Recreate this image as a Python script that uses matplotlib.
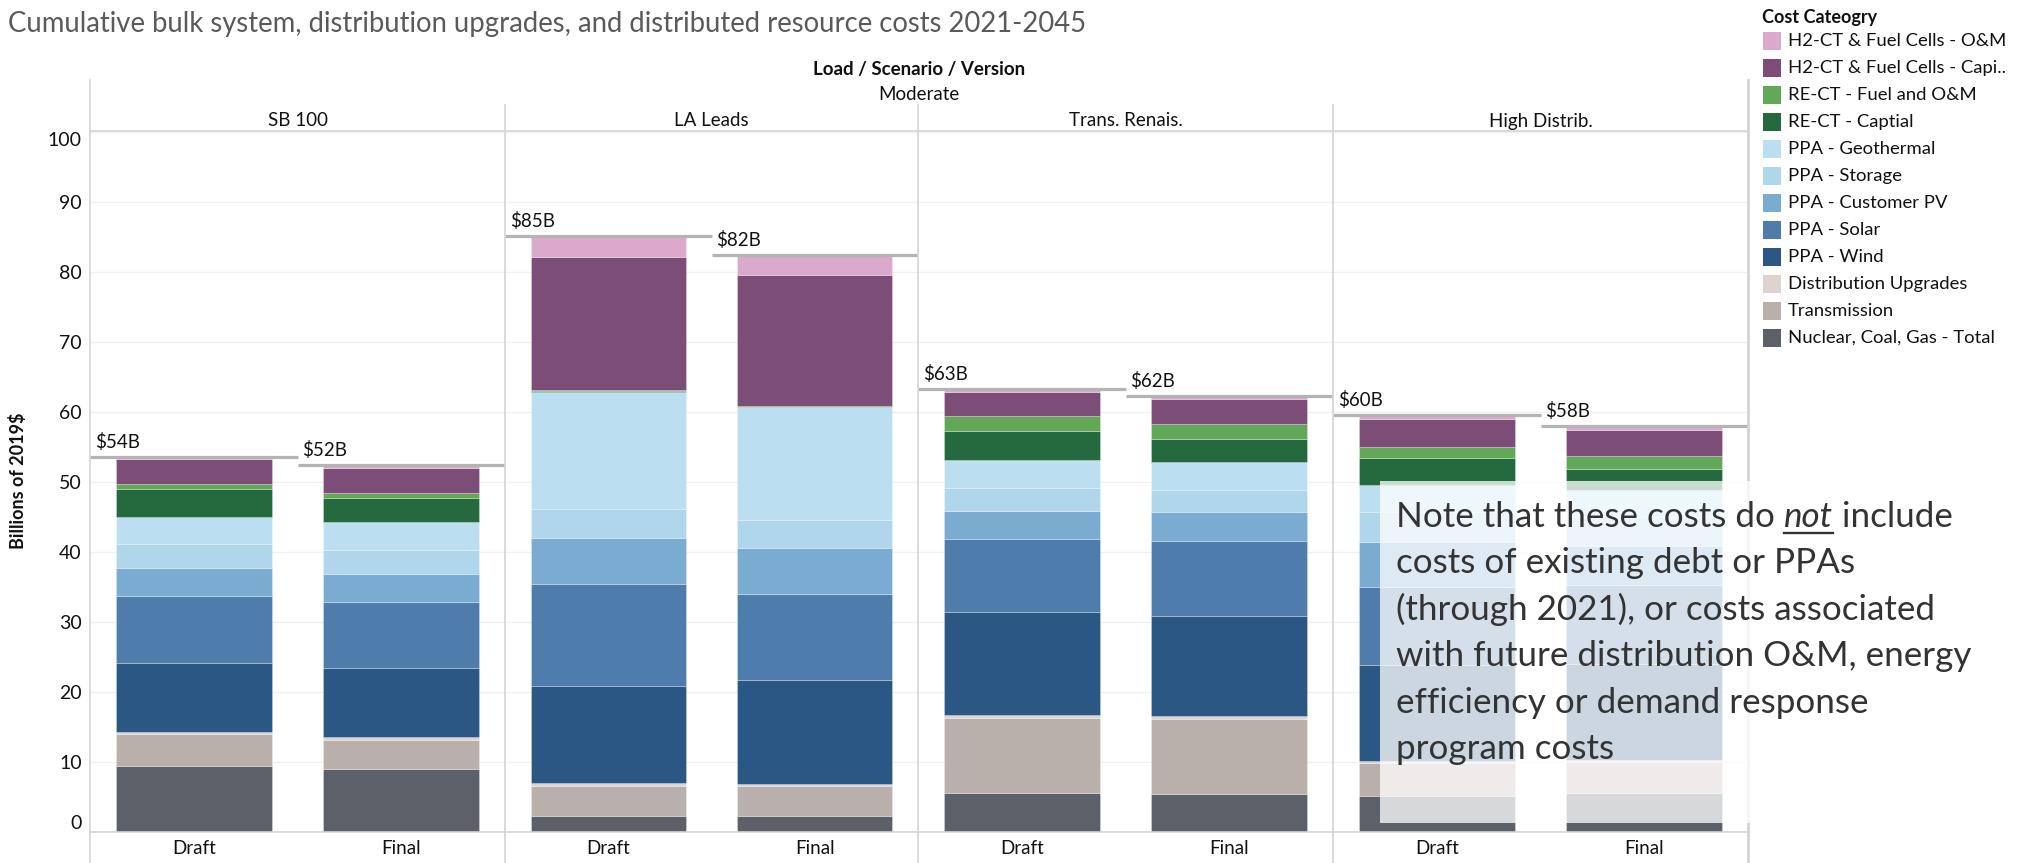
import matplotlib
matplotlib.use('Agg')
import matplotlib.pyplot as plt
from matplotlib.patches import Rectangle
from matplotlib.lines import Line2D
import numpy as np

W, H = 2028, 863

title = 'Cumulative bulk system, distribution upgrades, and distributed resource costs 2021-2045'
scenarios = ['SB 100', 'LA Leads', 'Trans. Renais.', 'High Distrib.']
versions = ['Draft', 'Final']

# stack order, bottom -> top
categories = ['Nuclear, Coal, Gas - Total', 'Transmission', 'Distribution Upgrades',
              'PPA - Wind', 'PPA - Solar', 'PPA - Customer PV', 'PPA - Storage',
              'PPA - Geothermal', 'RE-CT - Captial', 'RE-CT - Fuel and O&M',
              'H2-CT & Fuel Cells - Capi..', 'H2-CT & Fuel Cells - O&M']
colors = ['#5c6069', '#bab0ab', '#ddd3d1', '#2b5784', '#4e7dac', '#7aabd0',
          '#b0d6ec', '#bbdff1', '#246a3e', '#62a856', '#7c4d77', '#dba9cb']

# billions of 2019$ -> [SB100 D, SB100 F, LA D, LA F, TR D, TR F, HD D, HD F]
nuclear = [9.4, 9.0, 2.3, 2.3, 5.6, 5.4, 5.2, 5.5]
transmission = [4.6, 4.2, 4.3, 4.3, 10.7, 10.8, 4.6, 4.5]
distribution = [0.3, 0.3, 0.4, 0.3, 0.4, 0.3, 0.3, 0.3]
wind = [9.8, 9.9, 13.8, 14.8, 14.7, 14.4, 13.8, 13.7]
solar = [9.6, 9.5, 14.6, 12.3, 10.4, 10.6, 11.1, 11.2]
customer_pv = [4.0, 4.0, 6.6, 6.6, 4.1, 4.2, 6.4, 5.7]
storage = [3.4, 3.4, 4.1, 4.0, 3.2, 3.2, 4.3, 4.1]
geothermal = [3.9, 3.9, 16.8, 16.1, 4.0, 3.9, 3.8, 3.8]
rect_capital = [4.0, 3.5, 0.05, 0.05, 4.1, 3.3, 3.9, 3.1]
rect_fuel_om = [0.7, 0.7, 0.1, 0.1, 2.2, 2.2, 1.6, 1.8]
h2_capital = [3.5, 3.6, 19.1, 18.7, 3.5, 3.5, 4.0, 3.7]
h2_om = [0.4, 0.4, 2.9, 2.8, 0.4, 0.4, 0.6, 0.6]

series = [nuclear, transmission, distribution, wind, solar, customer_pv,
          storage, geothermal, rect_capital, rect_fuel_om, h2_capital, h2_om]

note_lines = ['costs of existing debt or PPAs',
              '(through 2021), or costs associated',
              'with future distribution O&M, energy',
              'efficiency or demand response',
              'program costs']

plt.rcParams['font.family'] = ['Lato', 'DejaVu Sans']
GRID = '#d4d4d4'
TXT = '#111111'
FS = 13.5


def fx(x):
    return x / W


def fy(y):
    return 1 - y / H


fig = plt.figure(figsize=(W / 100, H / 100), dpi=100)

# panel edges in pixels
edges = [90, 505, 918, 1333, 1748]
top, bottom = 131, 832

axes = []
for i, scen in enumerate(scenarios):
    ax = fig.add_axes([fx(edges[i]), fy(bottom), (edges[i + 1] - edges[i]) / W, (bottom - top) / H])
    axes.append(ax)
    for k, ver in enumerate(versions):
        idx = 2 * i + k
        base = 0
        for vals, col in zip(series, colors):
            ax.bar(k + 0.5, vals[idx], 0.75, bottom=base, color=col,
                   edgecolor=(1, 1, 1, 0.3), linewidth=0.6, zorder=2)
            base += vals[idx]
        ax.hlines(base, k, k + 1, color='#b4b4b4', lw=2.3, zorder=4)
        ax.annotate(f'${base:.0f}B', (k, base), xytext=(5, 6), textcoords='offset pixels',
                    ha='left', va='bottom', fontsize=FS, color=TXT)
    ax.set_xlim(0, 2)
    ax.set_ylim(0, 100.1)
    ax.set_yticks(range(0, 101, 10))
    ax.yaxis.grid(True, color='#f0f0f0', lw=1)
    ax.set_axisbelow(True)
    for s in ax.spines.values():
        s.set_visible(False)
    ax.set_xticks([0.5, 1.5])
    ax.set_xticklabels(versions, fontsize=FS, color=TXT)
    ax.tick_params(length=0, pad=6)
    if i == 0:
        ax.set_yticklabels([str(v) for v in range(0, 101, 10)], fontsize=14, color=TXT)
        labs = ax.get_yticklabels()
        labs[0].set_va('bottom')
        labs[-1].set_va('top')
    else:
        ax.set_yticklabels([])
    fig.text(fx((edges[i] + edges[i + 1]) / 2), fy(121), scen, ha='center', va='center',
             fontsize=FS, color=TXT)

# frame lines (Tableau style)
def fline(x0, y0, x1, y1, lw=1.2):
    fig.add_artist(Line2D([fx(x0), fx(x1)], [fy(y0), fy(y1)], color=GRID, lw=lw, zorder=1))

fline(edges[0], top, edges[-1], top)
fline(edges[0], bottom, edges[-1], bottom)
fline(edges[0], 80, edges[0], H)
for e in edges[1:-1]:
    fline(e, 105, e, H)
fline(edges[-1], 80, edges[-1], H, lw=2)

# headers
fig.text(fx(8), fy(24), title, fontsize=19.8, color='#5a5a5a', va='center')
fig.text(fx(919), fy(69), 'Load / Scenario / Version', ha='center', va='center',
         fontsize=FS, fontweight='bold', color=TXT)
fig.text(fx(919), fy(95), 'Moderate', ha='center', va='center', fontsize=FS, color=TXT)
fig.text(fx(18), fy(481), 'Billions of 2019$', rotation=90, ha='center', va='center',
         fontsize=13, fontweight='bold', color=TXT)

# legend
fig.text(fx(1762), fy(17), 'Cost Cateogry', fontsize=13, fontweight='bold', va='center', color=TXT)
for n, j in enumerate(range(len(categories) - 1, -1, -1)):
    yc = 41 + n * 27.0
    fig.add_artist(Rectangle((fx(1763), fy(yc + 9)), 18 / W, 18 / H, facecolor=colors[j],
                             edgecolor='none'))
    fig.text(fx(1788), fy(yc), categories[j], fontsize=13.3, va='center', color=TXT)

# note box
fig.add_artist(Rectangle((fx(1380), fy(823)), 630 / W, (823 - 481) / H, facecolor='white',
                         alpha=0.76, edgecolor='none', zorder=5))
NOTE_FS = 25.2
note_col = '#333333'
x0 = fx(1396)
base0 = 527
fig.canvas.draw()
renderer = fig.canvas.get_renderer()
t1 = fig.text(x0, fy(base0), 'Note that these costs do', fontsize=NOTE_FS, color=note_col,
              va='baseline', zorder=6)
tmp = fig.text(0, 0, 'x x', fontsize=NOTE_FS)
tmp2 = fig.text(0, 0, 'xx', fontsize=NOTE_FS)
space = tmp.get_window_extent(renderer).width - tmp2.get_window_extent(renderer).width
tmp.remove()
tmp2.remove()
xa = t1.get_window_extent(renderer).x1 + space
t2 = fig.text(fx(xa), fy(base0), 'not', fontsize=NOTE_FS, color=note_col, style='italic',
              va='baseline', zorder=6)
bb = t2.get_window_extent(renderer)
fig.add_artist(Line2D([fx(bb.x0), fx(bb.x1)], [fy(base0 + 6), fy(base0 + 6)], color=note_col,
                      lw=1.7, zorder=6))
fig.text(fx(bb.x1 + space), fy(base0), 'include', fontsize=NOTE_FS, color=note_col,
         va='baseline', zorder=6)
for n, line in enumerate(note_lines):
    fig.text(x0, fy(base0 + (n + 1) * 46.4), line, fontsize=NOTE_FS, color=note_col,
             va='baseline', zorder=6)

fig.savefig('out.png', dpi=100)
